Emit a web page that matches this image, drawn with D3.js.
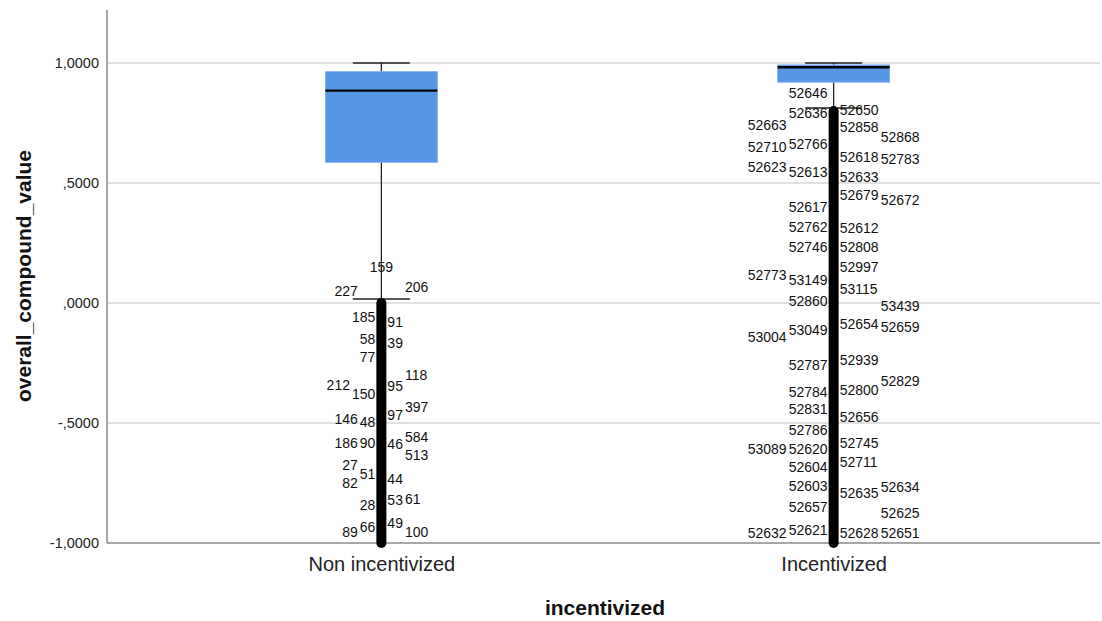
<!DOCTYPE html>
<html><head><meta charset="utf-8">
<script src="https://cdn.jsdelivr.net/npm/d3@7/dist/d3.min.js"></script>
<style>body{margin:0;background:#fff;} svg{display:block;font-family:"Liberation Sans",Arial,sans-serif;}</style>
</head><body><svg id="c" width="1102" height="621"></svg>
<script>
// ---- data ----
const categories = ["Non incentivized", "Incentivized"];
const whiskerHigh = [1.0, 1.0];
const q3 = [0.964, 0.992];
const median = [0.885, 0.982];
const q1 = [0.586, 0.920];
const whiskerLow = [0.017, 0.8125];
const outlierHigh = [0.0, 0.80];
const outlierLow = [-1.0, -1.0];
const yTicks = [-1, -0.5, 0, 0.5, 1];
const yTickLabels = ["-1,0000", "-,5000", ",0000", ",5000", "1,0000"];

// case labels for outliers: id, value, lane (side slot)
const labelIds0 = ["159","227","206","185","91","58","39","77","118","212","150","95","397","97","146","48","186","90","46","584","513","27","51","82","44","28","53","61","89","66","49","100"];
const labelValues0 = [0.150,0.050,0.067,-0.058,-0.079,-0.150,-0.167,-0.225,-0.300,-0.342,-0.379,-0.346,-0.433,-0.467,-0.483,-0.496,-0.583,-0.583,-0.588,-0.558,-0.633,-0.675,-0.713,-0.750,-0.733,-0.842,-0.821,-0.817,-0.954,-0.933,-0.917,-0.954];
const labelLanes0 = [0,-2,2,-1,1,-1,1,-1,2,-2,-1,1,2,1,-2,-1,-2,-1,1,2,2,-2,-1,-2,1,-1,1,2,-2,-1,1,2];

const labelIds1 = ["52646","52636","52650","52663","52858","52868","52710","52766","52618","52783","52623","52613","52633","52679","52672","52617","52762","52612","52746","52808","52997","52773","53149","53115","52860","53439","52654","52659","53049","53004","52939","52787","52829","52784","52800","52831","52656","52786","52745","53089","52620","52711","52604","52603","52635","52634","52657","52625","52621","52628","52651","52632"];
const labelValues1 = [0.875,0.792,0.804,0.742,0.733,0.692,0.650,0.663,0.608,0.600,0.567,0.546,0.525,0.450,0.429,0.400,0.317,0.313,0.233,0.233,0.150,0.117,0.096,0.058,0.008,-0.013,-0.088,-0.100,-0.113,-0.142,-0.238,-0.258,-0.325,-0.371,-0.363,-0.442,-0.475,-0.529,-0.583,-0.608,-0.608,-0.663,-0.683,-0.763,-0.792,-0.767,-0.850,-0.875,-0.946,-0.958,-0.958,-0.958];
const labelLanes1 = [-1,-1,1,-2,1,2,-2,-1,1,2,-2,-1,1,1,2,-1,-1,1,-1,1,1,-2,-1,1,-1,2,1,2,-1,-2,1,-1,2,-1,1,-1,1,-1,1,-2,-1,1,-1,-1,1,2,-1,2,-1,1,2,-2];

const labelSets = [
  {ids: labelIds0, values: labelValues0, lanes: labelLanes0},
  {ids: labelIds1, values: labelValues1, lanes: labelLanes1}
];

// ---- layout ----
const W = 1102, H = 621;
const m = {left: 107, right: 2, top: 10, bottom: 78};
const svg = d3.select("#c");
const y = d3.scaleLinear().domain([-1, 1.2208]).range([H - m.bottom, m.top]);
const x = d3.scalePoint().domain(categories).range([110, 1105]).padding(0.6);
const boxW = 112, capW = 57, outW = 10;
const fill = "#5596e5";

// gridlines
svg.append("g").selectAll("line").data(yTicks.filter(d => d !== -1)).join("line")
  .attr("x1", m.left).attr("x2", W - m.right)
  .attr("y1", d => y(d)).attr("y2", d => y(d))
  .attr("stroke", "#c4c4c4").attr("stroke-width", 1.2);

// y axis
const yAxis = svg.append("g").attr("transform", `translate(${m.left},0)`)
  .call(d3.axisLeft(y).tickValues(yTicks).tickSize(0).tickPadding(8)
    .tickFormat((d, i) => yTickLabels[i]));
yAxis.select(".domain").remove();
yAxis.selectAll("text").attr("font-size", "14.5px").attr("fill", "#222").attr("font-family", "Liberation Sans, Arial, sans-serif");
svg.append("line").attr("x1", m.left).attr("x2", m.left).attr("y1", m.top).attr("y2", y(-1))
  .attr("stroke", "#8a8a8a").attr("stroke-width", 1.5);
svg.append("line").attr("x1", m.left).attr("x2", W - m.right).attr("y1", y(-1)).attr("y2", y(-1))
  .attr("stroke", "#8a8a8a").attr("stroke-width", 1.5);

// x axis labels
const xAxis = svg.append("g").attr("transform", `translate(0,${y(-1)})`)
  .call(d3.axisBottom(x).tickSize(0).tickPadding(14));
xAxis.select(".domain").remove();
xAxis.selectAll("text").attr("font-size", "20px").attr("fill", "#222").attr("font-family", "Liberation Sans, Arial, sans-serif");

// titles
svg.append("text").attr("x", 605).attr("y", 615).attr("text-anchor", "middle")
  .attr("font-size", "21px").attr("font-weight", "bold").attr("fill", "#111").text("incentivized");
svg.append("text").attr("transform", `translate(31,${276}) rotate(-90)`).attr("text-anchor", "middle")
  .attr("font-size", "21px").attr("font-weight", "bold").attr("fill", "#111").text("overall_compound_value");

// boxes
categories.forEach((c, i) => {
  const cx = x(c);
  const g = svg.append("g");
  g.append("line").attr("x1", cx).attr("x2", cx).attr("y1", y(whiskerHigh[i])).attr("y2", y(q3[i])).attr("stroke", "#222").attr("stroke-width", 1.3);
  g.append("line").attr("x1", cx).attr("x2", cx).attr("y1", y(q1[i])).attr("y2", y(whiskerLow[i])).attr("stroke", "#222").attr("stroke-width", 1.3);
  g.append("line").attr("x1", cx - capW/2).attr("x2", cx + capW/2).attr("y1", y(whiskerHigh[i])).attr("y2", y(whiskerHigh[i])).attr("stroke", "#222").attr("stroke-width", 1.5);
  g.append("line").attr("x1", cx - capW/2).attr("x2", cx + capW/2).attr("y1", y(whiskerLow[i])).attr("y2", y(whiskerLow[i])).attr("stroke", "#222").attr("stroke-width", 1.5);
  g.append("rect").attr("x", cx - boxW/2).attr("width", boxW)
    .attr("y", y(q3[i])).attr("height", y(q1[i]) - y(q3[i]))
    .attr("fill", fill).attr("stroke", "#7fb0ec").attr("stroke-width", 0.8);
  g.append("line").attr("x1", cx - boxW/2).attr("x2", cx + boxW/2).attr("y1", y(median[i])).attr("y2", y(median[i]))
    .attr("stroke", "#000").attr("stroke-width", 2.4);
  g.append("line").attr("x1", cx).attr("x2", cx).attr("y1", y(outlierHigh[i])).attr("y2", y(outlierLow[i]))
    .attr("stroke", "#000").attr("stroke-width", outW).attr("stroke-linecap", "round");
});

// outlier case labels (far lanes pushed past neighbouring near-lane labels)
const digitW = 7.8, near = 6, gap = 2;
labelSets.forEach((s, i) => {
  const cx = x(categories[i]);
  const medianLen = (sgn) => {
    const lens = s.ids.filter((d, k) => s.lanes[k] === sgn).map(d => d.length).sort((a,b)=>a-b);
    return lens.length ? lens[Math.floor(lens.length/2)] : 3;
  };
  const farOffset = (k) => {
    const sgn = Math.sign(s.lanes[k]);
    let len = medianLen(sgn);
    s.ids.forEach((d, j) => {
      if (s.lanes[j] === sgn && Math.abs(y(s.values[j]) - y(s.values[k])) < 12) len = Math.max(len, d.length);
    });
    return near + len * digitW + gap;
  };
  svg.append("g").selectAll("text").data(s.ids).join("text")
    .attr("x", (d, k) => {
      const l = s.lanes[k];
      if (l === 0) return cx;
      if (l === -1) return cx - near;
      if (l === 1) return cx + near;
      return cx + Math.sign(l) * farOffset(k);
    })
    .attr("y", (d, k) => y(s.values[k]))
    .attr("dy", "0.36em")
    .attr("text-anchor", (d, k) => s.lanes[k] === 0 ? "middle" : (s.lanes[k] < 0 ? "end" : "start"))
    .attr("font-size", "14px").attr("fill", "#111")
    .text(d => d);
});
</script></body></html>
